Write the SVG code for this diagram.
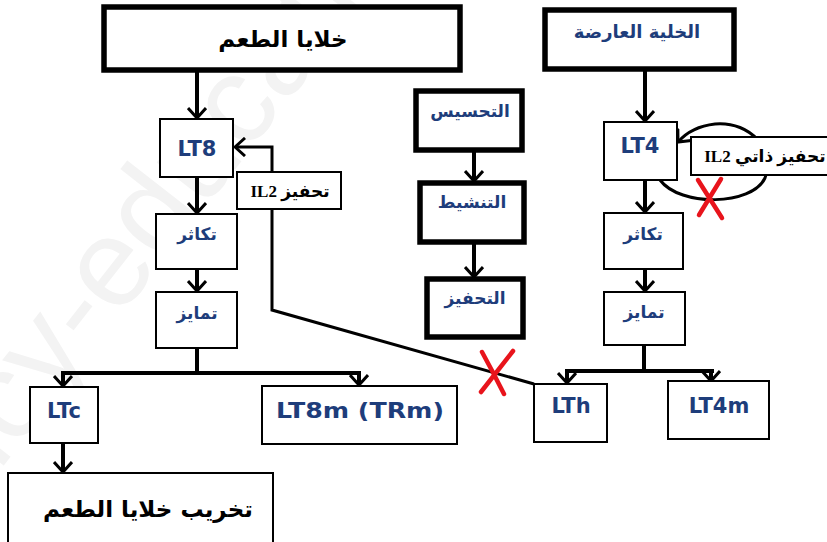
<svg xmlns="http://www.w3.org/2000/svg" width="827" height="542" viewBox="0 0 827 542">
<style>
.thin{fill:#fff;stroke:#000;stroke-width:2}
.thick{fill:#fff;stroke:#000;stroke-width:5.5}
.lbl{fill:#fff;stroke:#000;stroke-width:2}
.blue{fill:#1e3d7b;font-family:"DejaVu Sans",sans-serif;font-weight:bold;text-anchor:middle}
.lat{font-size:21px}
.ar{font-size:17px}
.blk{fill:#000;font-family:"DejaVu Sans",sans-serif;text-anchor:middle}
.ser{fill:#000;font-family:"Liberation Serif","DejaVu Sans",serif;font-size:17px;font-weight:bold;text-anchor:middle}
.con{fill:none;stroke:#000;stroke-width:4}
.fb{fill:none;stroke:#000;stroke-width:3}
.x{fill:none;stroke:#e8141c;stroke-width:4.5;stroke-linecap:round}
.wm{fill:#f3f3f3;font-family:"Liberation Sans",sans-serif;font-size:125px}
</style>
<defs>
<marker id="ah" viewBox="0 0 12 20" refX="11" refY="10" markerWidth="12" markerHeight="20" markerUnits="userSpaceOnUse" orient="auto">
<path d="M1,1 L11,10 L1,19" fill="none" stroke="#000" stroke-width="3"/>
</marker>
</defs>
<rect width="827" height="542" fill="#fff"/>
<text class="wm" x="-70" y="560" transform="rotate(-52 -70 560)">ency-education</text>

<g id="connectors">
<line class="con" x1="197" y1="72" x2="197" y2="118" marker-end="url(#ah)"/>
<line class="con" x1="197" y1="177" x2="197" y2="213" marker-end="url(#ah)"/>
<line class="con" x1="197" y1="269" x2="197" y2="291" marker-end="url(#ah)"/>
<polyline class="con" points="197,348 197,373"/>
<line class="con" x1="61" y1="373" x2="361" y2="373"/>
<line class="con" x1="63" y1="373" x2="63" y2="386" marker-end="url(#ah)"/>
<line class="con" x1="359" y1="373" x2="359" y2="385" marker-end="url(#ah)"/>
<line class="con" x1="63" y1="443" x2="63" y2="472" marker-end="url(#ah)"/>
<line class="con" x1="474" y1="150" x2="474" y2="181" marker-end="url(#ah)"/>
<line class="con" x1="474" y1="243" x2="474" y2="277" marker-end="url(#ah)"/>
<line class="con" x1="645" y1="70" x2="645" y2="121" marker-end="url(#ah)"/>
<line class="con" x1="645" y1="180" x2="645" y2="212" marker-end="url(#ah)"/>
<line class="con" x1="645" y1="269" x2="645" y2="291" marker-end="url(#ah)"/>
<polyline class="con" points="644,345 644,371"/>
<line class="con" x1="565" y1="371" x2="714" y2="371"/>
<line class="con" x1="567" y1="371" x2="567" y2="383" marker-end="url(#ah)"/>
<line class="con" x1="711" y1="371" x2="711" y2="381" marker-end="url(#ah)"/>
<polyline class="fb" points="534,384 272,310 272,147 235,147" marker-end="url(#ah)"/>
<path class="fb" d="M660,180 C680,207 752,206 765,178 C776,152 752,121 715,124 C697,126 685,134 678,142" marker-end="url(#ah)"/>
</g>

<g id="n-taste-cells"><rect class="thick" x="104" y="7" width="356" height="63"/><text class="blk" x="283" y="47" font-size="23" font-weight="bold">خلايا الطعم</text></g>
<g id="n-LT8"><rect class="thin" x="160" y="119" width="73" height="58"/><text class="blue lat" x="197" y="156">LT8</text></g>
<g id="n-prolif-left"><rect class="thin" x="156" y="214" width="81" height="55"/><text class="blue ar" x="197" y="240">تكاثر</text></g>
<g id="n-diff-left"><rect class="thin" x="156" y="292" width="81" height="56"/><text class="blue ar" x="197" y="319">تمايز</text></g>
<g id="n-LTc"><rect class="thin" x="30" y="387" width="68" height="56"/><text class="blue lat" x="64" y="418">LTc</text></g>
<g id="n-LT8m"><rect class="thin" x="262" y="386" width="195" height="58"/><text class="blue lat" x="360" y="418" textLength="168" lengthAdjust="spacingAndGlyphs">LT8m (TRm)</text></g>
<g id="n-destroy"><rect class="thin" x="8" y="473" width="265" height="80"/><text class="blk" x="148" y="517" font-size="23" font-weight="bold">تخريب خلايا الطعم</text></g>

<g id="n-sensitization"><rect class="thick" x="416" y="91" width="106" height="59"/><text class="blue ar" x="470" y="117">التحسيس</text></g>
<g id="n-activation"><rect class="thick" x="420" y="183" width="104" height="59"/><text class="blue ar" x="472" y="208">التنشيط</text></g>
<g id="n-stimulation"><rect class="thick" x="427" y="279" width="96" height="58"/><text class="blue ar" x="475" y="304">التحفيز</text></g>

<g id="n-apc"><rect class="thick" x="545" y="10" width="189" height="59"/><text class="blue" x="637" y="38" font-size="18">الخلية العارضة</text></g>
<g id="n-LT4"><rect class="thin" x="604" y="122" width="73" height="58"/><text class="blue lat" x="640" y="153">LT4</text></g>
<g id="n-prolif-right"><rect class="thin" x="604" y="213" width="79" height="56"/><text class="blue ar" x="643" y="240">تكاثر</text></g>
<g id="n-diff-right"><rect class="thin" x="604" y="292" width="81" height="53"/><text class="blue ar" x="644" y="318">تمايز</text></g>
<g id="n-LTh"><rect class="thin" x="534" y="384" width="73" height="58"/><text class="blue lat" x="571" y="413">LTh</text></g>
<g id="n-LT4m"><rect class="thin" x="668" y="381" width="101" height="58"/><text class="blue lat" x="719" y="413">LT4m</text></g>

<g id="label-il2-left"><rect class="lbl" x="237" y="172" width="104" height="37"/><text class="ser" x="290" y="197" direction="rtl">تحفيز IL2</text></g>
<g id="label-il2-right"><rect class="lbl" x="691" y="137" width="150" height="38"/><text class="ser" x="765" y="162" font-size="18" direction="rtl">تحفيز ذاتي IL2</text></g>

<g id="crosses">
<path class="x" d="M482,352 Q493,372 504,394 M513,351 L481,392"/>
<path class="x" d="M698,180 L722,218 M721,179 L699,215"/>
</g>
</svg>
